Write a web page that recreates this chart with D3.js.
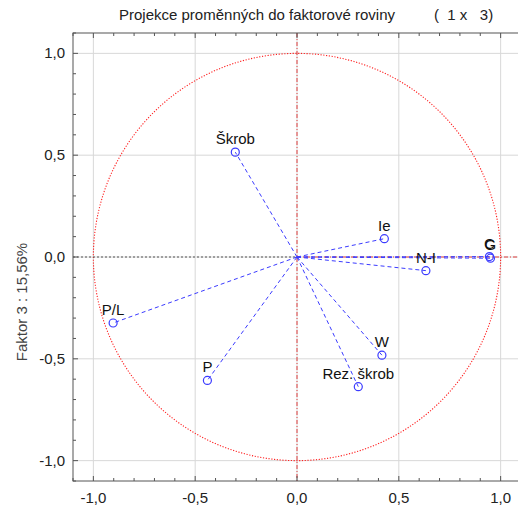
<!DOCTYPE html>
<html>
<head>
<meta charset="utf-8">
<script src="https://cdn.jsdelivr.net/npm/d3@7"></script>
<style>
  body { margin: 0; background: #fff; }
  text { font-family: "Liberation Sans", Arial, sans-serif; }
</style>
</head>
<body>
<div id="chart"></div>
<script>
// proměnné a jejich souřadnice (Faktor 1, Faktor 3)
const names = ["Škrob", "Ie", "N-I", "C", "G", "P/L", "P", "W", "Rez. škrob"];
const f1 = [-0.303, 0.429, 0.633, 0.945, 0.950, -0.903, -0.440, 0.417, 0.301];
const f3 = [0.515, 0.090, -0.067, 0.002, -0.006, -0.324, -0.606, -0.482, -0.637];
const tickValues = [-1.0, -0.5, 0.0, 0.5, 1.0];

const width = 518, height = 511;
const svg = d3.select("#chart").append("svg")
    .attr("width", width)
    .attr("height", height);

const x = d3.scaleLinear().domain([-1.1, 1.1]).range([73, 521]);
const y = d3.scaleLinear().domain([-1.1, 1.1]).range([481, 33]);
const fmt = d => d3.format(".1f")(d).replace(".", ",").replace("−", "-");

// mřížka
svg.selectAll("line.gx").data(tickValues).enter().append("line")
    .attr("x1", d => x(d)).attr("x2", d => x(d))
    .attr("y1", y(1.1)).attr("y2", y(-1.1))
    .attr("stroke", "#d8d8d8");
svg.selectAll("line.gy").data(tickValues).enter().append("line")
    .attr("y1", d => y(d)).attr("y2", d => y(d))
    .attr("x1", x(-1.1)).attr("x2", x(1.1))
    .attr("stroke", "#d8d8d8");

// jednotková kružnice
svg.append("circle")
    .attr("cx", x(0)).attr("cy", y(0))
    .attr("r", x(1) - x(0))
    .attr("fill", "none")
    .attr("stroke", "#ff2020")
    .attr("stroke-width", 1.1)
    .attr("stroke-dasharray", "1.2,1.6");

// osy přes počátek
svg.append("line")
    .attr("x1", x(0)).attr("x2", x(0))
    .attr("y1", y(1.1)).attr("y2", y(-1.1))
    .attr("stroke", "#e04040").attr("stroke-dasharray", "4,2,1,2");
svg.append("line")
    .attr("x1", x(-1.1)).attr("x2", x(0))
    .attr("y1", y(0)).attr("y2", y(0))
    .attr("stroke", "#555").attr("stroke-dasharray", "2,2");
svg.append("line")
    .attr("x1", x(0)).attr("x2", x(1.1))
    .attr("y1", y(0)).attr("y2", y(0))
    .attr("stroke", "#e04040").attr("stroke-dasharray", "4,2,1,2");

// rámeček s tiky dovnitř
const minor = d3.range(-11, 12).map(i => i / 10);
const frame = svg.append("g");
frame.append("rect")
    .attr("x", x(-1.1)).attr("y", y(1.1))
    .attr("width", x(1.1) - x(-1.1)).attr("height", y(-1.1) - y(1.1))
    .attr("fill", "none").attr("stroke", "#555");

const isMajor = d => Math.abs(Math.round(d * 2) - d * 2) < 1e-6;
minor.forEach(d => {
    const len = isMajor(d) ? 5 : 3;
    frame.append("line").attr("x1", x(d)).attr("x2", x(d))
        .attr("y1", y(-1.1)).attr("y2", y(-1.1) - len).attr("stroke", "#555");
    frame.append("line").attr("x1", x(d)).attr("x2", x(d))
        .attr("y1", y(1.1)).attr("y2", y(1.1) + len).attr("stroke", "#555");
    frame.append("line").attr("y1", y(d)).attr("y2", y(d))
        .attr("x1", x(-1.1)).attr("x2", x(-1.1) + len).attr("stroke", "#555");
});

// popisky tiků
svg.selectAll("text.xt").data(tickValues).enter().append("text")
    .attr("x", d => x(d)).attr("y", 503)
    .attr("text-anchor", "middle")
    .attr("font-size", "15px").attr("fill", "#222")
    .text(fmt);
svg.selectAll("text.yt").data(tickValues).enter().append("text")
    .attr("x", 65).attr("y", d => y(d) + 5)
    .attr("text-anchor", "end")
    .attr("font-size", "15px").attr("fill", "#222")
    .text(fmt);

// titulek
svg.append("text")
    .attr("x", 257).attr("y", 20)
    .attr("text-anchor", "middle")
    .attr("font-size", "15px").attr("fill", "#222")
    .text("Projekce proměnných do faktorové roviny");
svg.append("text")
    .attr("x", 434).attr("y", 20)
    .attr("font-size", "15px").attr("fill", "#222")
    .attr("xml:space", "preserve")
    .text("(  1 x   3)");

// popis osy y
svg.append("text")
    .attr("transform", "translate(27,302) rotate(-90)")
    .attr("text-anchor", "middle")
    .attr("font-size", "15px").attr("fill", "#444")
    .text("Faktor 3 : 15,56%");

// vektory proměnných
const pts = names.map((n, i) => ({ name: n, a: f1[i], b: f3[i] }));

svg.selectAll("line.vec").data(pts).enter().append("line")
    .attr("x1", x(0)).attr("y1", y(0))
    .attr("x2", d => x(d.a)).attr("y2", d => y(d.b))
    .attr("stroke", "#3b3bff")
    .attr("stroke-width", 1)
    .attr("stroke-dasharray", "4,3");

svg.selectAll("circle.pt").data(pts).enter().append("circle")
    .attr("cx", d => x(d.a)).attr("cy", d => y(d.b))
    .attr("r", 4)
    .attr("fill", "none")
    .attr("stroke", "#3b3bff")
    .attr("stroke-width", 1.2);

// C a G se v originále překrývají
svg.selectAll("text.lbl").data(pts).enter().append("text")
    .attr("x", d => x(d.a)).attr("y", d => y(d.b) - 8)
    .attr("text-anchor", "middle")
    .attr("font-size", "15px").attr("fill", "#111")
    .text(d => d.name);
</script>
</body>
</html>
